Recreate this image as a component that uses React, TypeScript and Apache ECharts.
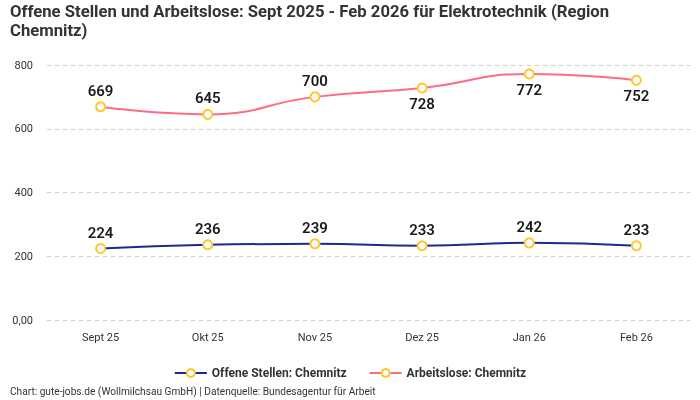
import React, { useEffect, useRef } from 'react';
import * as echarts from 'echarts';

const months = ['Sept 25', 'Okt 25', 'Nov 25', 'Dez 25', 'Jan 26', 'Feb 26'];
const offeneStellen = [224, 236, 239, 233, 242, 233];
const arbeitslose = [669, 645, 700, 728, 772, 752];
// label position per point of the Arbeitslose line
const arbeitsloseLabelPos = ['top', 'top', 'top', 'bottom', 'bottom', 'bottom'];

const TITLE_LINE_1 = 'Offene Stellen und Arbeitslose: Sept 2025 - Feb 2026 für Elektrotechnik (Region';
const TITLE_LINE_2 = 'Chemnitz)';
const FOOTER = 'Chart: gute-jobs.de (Wollmilchsau GmbH) | Datenquelle: Bundesagentur für Arbeit';

const FONT = '"Roboto", "Noto Sans", sans-serif';
const BLUE = '#1b2a8c';
const PINK = '#ff6b84';
const YELLOW = '#ffc82c';

// the reference uses a condensed face; squeeze Roboto to the same width
function squeeze(text: string, font: string, target: number) {
  const ctx = document.createElement('canvas').getContext('2d');
  if (!ctx) return 1;
  ctx.font = font;
  const w = ctx.measureText(text).width;
  return w > 0 ? target / w : 1;
}

const App: React.FC = () => {
  const chartRef = useRef<HTMLDivElement>(null);

  useEffect(() => {
    if (!chartRef.current) return;
    const chart = echarts.init(chartRef.current, null, { renderer: 'svg' });

    const titleScale = squeeze(TITLE_LINE_1, 'bold 17px Roboto', 600);
    const footerScale = squeeze(FOOTER, '10px Roboto', 366);

    const labelStyle = {
      show: true,
      fontSize: 15,
      fontWeight: 600,
      color: '#1a1a1a',
      fontFamily: FONT,
      distance: 3,
    };

    chart.setOption({
      animation: false,
      textStyle: { fontFamily: FONT },
      grid: { left: 47, right: 10, top: 65, bottom: 80 },
      xAxis: {
        type: 'category',
        data: months,
        boundaryGap: true,
        axisLine: { show: false },
        axisTick: { show: false },
        axisLabel: { color: '#333', fontSize: 11, margin: 12 },
      },
      yAxis: {
        type: 'value',
        min: 0,
        max: 800,
        interval: 200,
        axisLabel: {
          color: '#333',
          fontSize: 11,
          margin: 14,
          formatter: (v: number) => (v === 0 ? '0,00' : String(v)),
        },
        splitLine: { lineStyle: { type: [4, 4], color: '#cccccc' } },
      },
      legend: {
        top: 362,
        left: 'center',
        itemWidth: 32,
        itemHeight: 10,
        itemGap: 22,
        textStyle: { fontSize: 12, fontWeight: 'bold', color: '#333' },
        data: ['Offene Stellen: Chemnitz', 'Arbeitslose: Chemnitz'],
      },
      graphic: [
        {
          type: 'text',
          x: 10,
          y: 2,
          scaleX: titleScale,
          style: {
            text: TITLE_LINE_1,
            fontSize: 17,
            fontWeight: 'bold',
            fill: '#333',
            fontFamily: FONT,
          },
        },
        {
          type: 'text',
          x: 10,
          y: 21,
          scaleX: titleScale,
          style: {
            text: TITLE_LINE_2,
            fontSize: 17,
            fontWeight: 'bold',
            fill: '#333',
            fontFamily: FONT,
          },
        },
        {
          type: 'text',
          x: 10,
          y: 387,
          scaleX: footerScale,
          style: {
            text: FOOTER,
            fontSize: 10,
            fill: '#333',
            fontFamily: FONT,
          },
        },
      ],
      series: [
        {
          name: 'Offene Stellen: Chemnitz',
          type: 'line',
          smooth: true,
          data: offeneStellen,
          symbol: 'circle',
          symbolSize: 9,
          lineStyle: { color: BLUE, width: 2 },
          itemStyle: { color: '#fff', borderColor: YELLOW, borderWidth: 2 },
          label: { ...labelStyle, position: 'top' },
        },
        {
          name: 'Arbeitslose: Chemnitz',
          type: 'line',
          smooth: true,
          data: arbeitslose.map((v, i) => ({
            value: v,
            label: { position: arbeitsloseLabelPos[i] },
          })),
          symbol: 'circle',
          symbolSize: 9,
          lineStyle: { color: PINK, width: 2 },
          itemStyle: { color: '#fff', borderColor: YELLOW, borderWidth: 2 },
          label: { ...labelStyle, position: 'top' },
        },
      ],
    });

    return () => {
      chart.dispose();
    };
  }, []);

  return (
    <div
      ref={chartRef}
      style={{ position: 'fixed', left: 0, top: 0, width: 700, height: 400 }}
    />
  );
};

export default App;
